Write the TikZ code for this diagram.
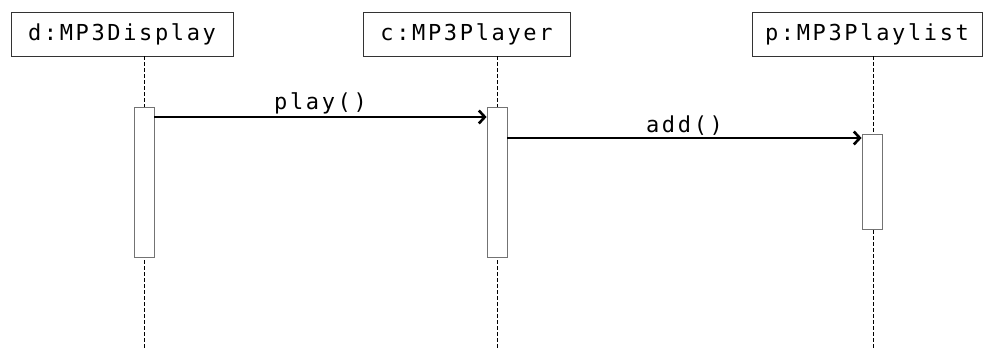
\documentclass[tikz,border=0pt]{standalone}
\usepackage{fontspec}
\setmonofont[LetterSpace=12]{DejaVu Sans Mono}
\usetikzlibrary{positioning}
\usetikzlibrary{arrows.meta}

\begin{document}
\begin{tikzpicture}[x=1pt,y=-1pt,
  obj/.style={draw=black!80, line width=0.8pt, inner sep=0pt, minimum height=44pt, font=\ttfamily\fontsize{22}{26}\selectfont},
  act/.style={draw=black!55, fill=white, line width=0.8pt, inner sep=0pt, minimum width=20pt},
  life/.style={line width=0.8pt, dash pattern=on 4pt off 2pt},
  msg/.style={line width=1.1pt, -{Straight Barb[length=6pt,width=13pt,line width=2.6pt]}},
  lbl/.style={font=\ttfamily\fontsize{22}{26}\selectfont, inner sep=2pt}]

\useasboundingbox (0,0) rectangle (983,349);

% objects
\node[obj, minimum width=222pt] (d) at (122,34) {d:MP3Display};
\node[obj, minimum width=207pt] (c) at (466.5,34) {c:MP3Player};
\node[obj, minimum width=230pt] (p) at (867,34) {p:MP3Playlist};

% lifelines
\coordinate (dend) at (144,349);
\coordinate (cend) at (497,349);
\coordinate (pend) at (873,349);
\draw[life] (d.south -| dend) -- (dend);
\draw[life] (c.south -| cend) -- (cend);
\draw[life] (p.south -| pend) -- (pend);

% activations
\node[act, minimum height=150pt] (dact) at (144,182) {};
\node[act, minimum height=150pt] (cact) at (497,182) {};
\node[act, minimum height=95pt] (pact) at (872,181.5) {};

% messages
\coordinate (m1) at (0,117);
\coordinate (m2) at (0,138);
\draw[msg] (dact.east |- m1) -- node[lbl, above] {play()} (cact.west |- m1);
\draw[msg] (cact.east |- m2) -- node[lbl, above] {add()} (pact.west |- m2);

\end{tikzpicture}
\end{document}
